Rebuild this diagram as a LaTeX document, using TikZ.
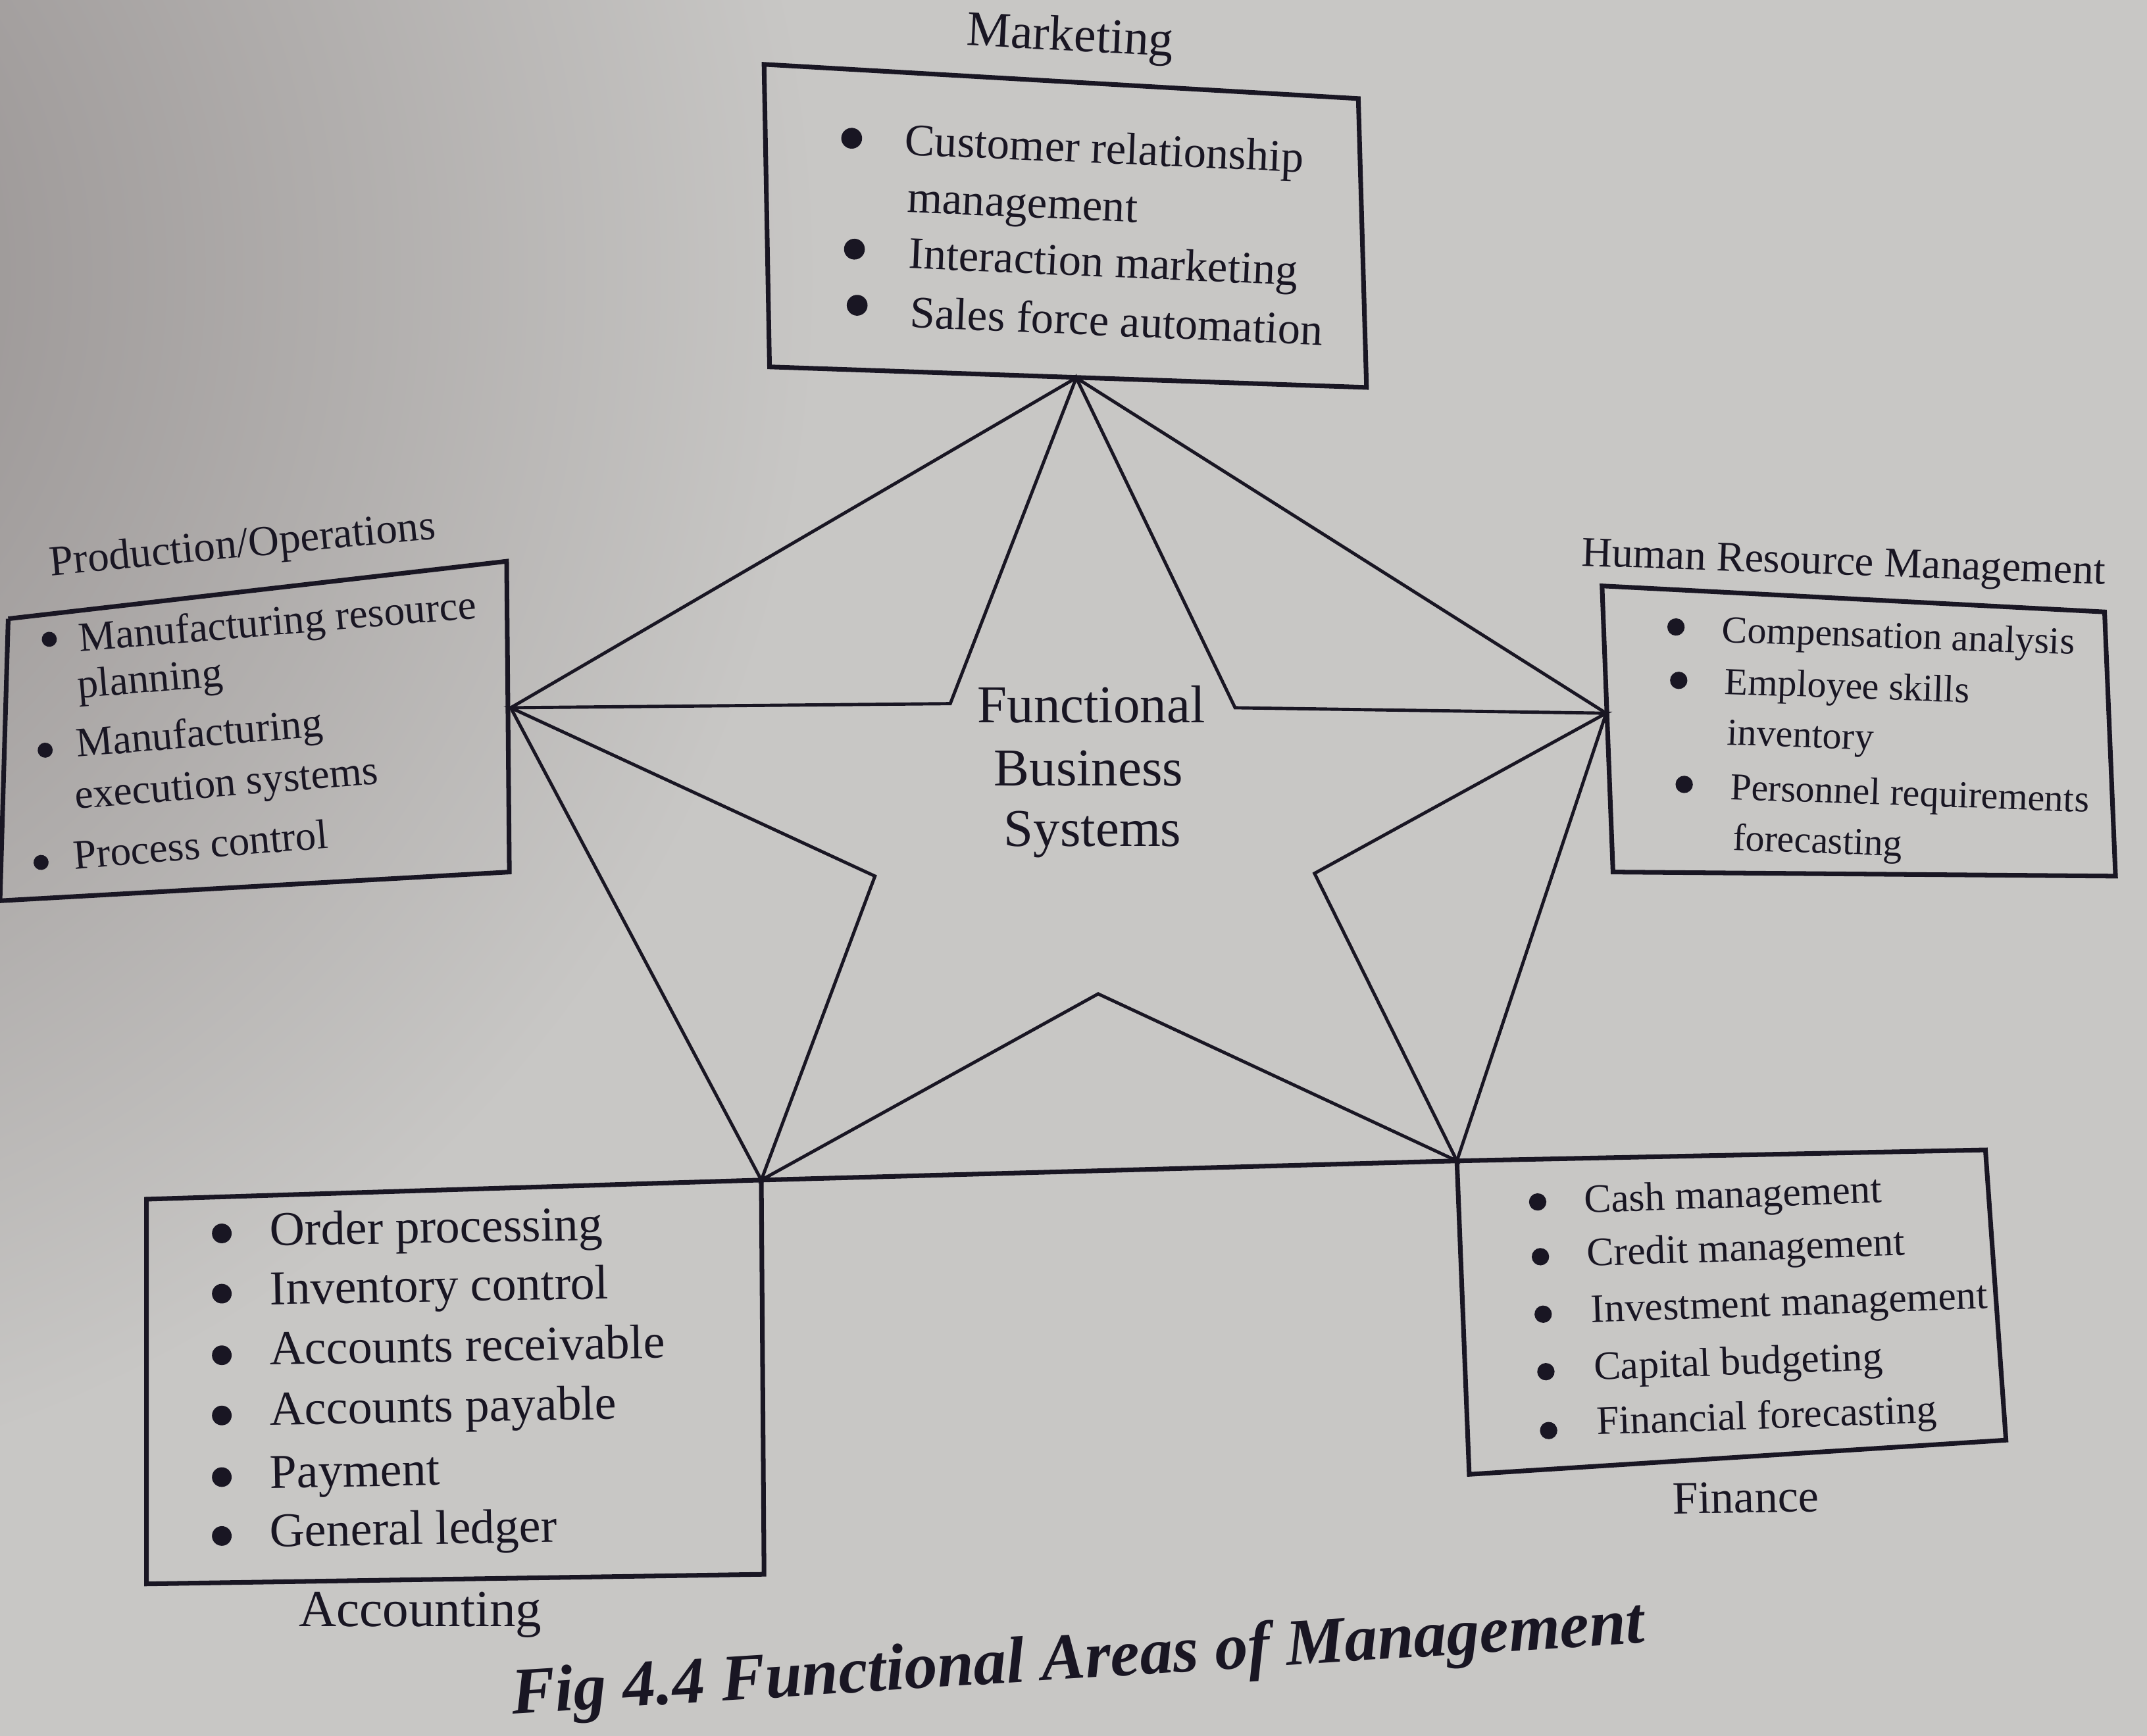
\documentclass[tikz,border=0pt]{standalone}
\usepackage{fontspec}
\setmainfont{Liberation Serif}
\definecolor{paper}{RGB}{200,199,197}
\definecolor{paperdark}{RGB}{140,134,134}
\definecolor{ink}{RGB}{25,22,35}
\begin{document}
\begin{tikzpicture}[x=0.02081cm,y=-0.02081cm,
  boxline/.style={draw=ink,line width=2pt,line join=miter},
  starline/.style={draw=ink,line width=1.4pt,line join=miter},
  itm/.style={anchor=base west,inner sep=0pt,text=ink},
  ttl/.style={anchor=base,inner sep=0pt,text=ink},
  dotb/.style={circle,fill=ink,inner sep=0pt,minimum size=8pt}]
\fill[paper] (0,0) rectangle (1568,1268);
\begin{scope}
\clip (0,0) rectangle (1568,1268);
\shade[inner color=paperdark, outer color=paper] (-300,200) circle (900);
\end{scope}
\useasboundingbox (0,0) rectangle (1568,1268);

% star vertices
\coordinate (T) at (786,276);
\coordinate (R) at (1173,521);
\coordinate (BR) at (1064,848);
\coordinate (BL) at (556,862);
\coordinate (L) at (373,517);
\coordinate (iUR) at (902,517);
\coordinate (iR) at (960,638);
\coordinate (iB) at (802,726);
\coordinate (iL) at (639,640);
\coordinate (iUL) at (694,514);

% boxes
\coordinate (mTL) at (558,47); \coordinate (mTR) at (992,72);
\coordinate (mBR) at (998,283); \coordinate (mBL) at (562,268);
\draw[boxline] (mTL) -- (mTR) -- (mBR) -- (mBL) -- cycle;

\coordinate (pTL) at (6,452); \coordinate (pTR) at (370,410);
\coordinate (pBR) at (372,637); \coordinate (pBL) at (0,658);
\draw[boxline] (pTL) -- (pTR) -- (pBR) -- (pBL);
\draw[boxline] (pTL) -- (pBL);

\coordinate (hTL) at (1170,428); \coordinate (hTR) at (1537,447);
\coordinate (hBR) at (1545,640); \coordinate (hBL) at (1178,637);
\draw[boxline] (hTL) -- (hTR) -- (hBR) -- (hBL) -- cycle;

\coordinate (aTL) at (107,876); \coordinate (aBR) at (558,1150);
\coordinate (aBL) at (107,1157);
\draw[boxline] (aTL) -- (BL) -- (aBR) -- (aBL) -- cycle;

\coordinate (fTR) at (1450,840); \coordinate (fBR) at (1465,1052);
\coordinate (fBL) at (1073,1077);
\draw[boxline] (BR) -- (fTR) -- (fBR) -- (fBL) -- cycle;
\draw[boxline] (BL) -- (BR);

% pentagon edges
\draw[starline] (T) -- (L) -- (BL);
\draw[starline] (T) -- (R) -- (BR);
% star
\draw[starline] (T) -- (iUR) -- (R) -- (iR) -- (BR) -- (iB) -- (BL) -- (iL) -- (L) -- (iUL) -- cycle;

% center text
\node[ttl,font=\fontsize{23}{27}\selectfont] (c1) at (797,528) {Functional};
\node[ttl,font=\fontsize{23}{27}\selectfont] (c2) at (795,574) {Business};
\node[ttl,font=\fontsize{23}{27}\selectfont] (c3) at (798,618) {Systems};

% Marketing
\node[ttl,font=\fontsize{21.5}{25}\selectfont,rotate=-3] (mt) at (781,37) {Marketing};
\begin{scope}[every node/.append style={rotate=-2.5}]
\node[itm,font=\fontsize{19.5}{23}\selectfont] (m1) at (660,113) {Customer relationship};
\node[itm,font=\fontsize{19.5}{23}\selectfont] (m2) at (662,155) {management};
\node[itm,font=\fontsize{19.5}{23}\selectfont] (m3) at (663,196) {Interaction marketing};
\node[itm,font=\fontsize{19.5}{23}\selectfont] (m4) at (664,239) {Sales force automation};
\node[dotb,minimum size=9pt] (mb1) at (622,101) {};
\node[dotb,minimum size=9pt] (mb2) at (624,182) {};
\node[dotb,minimum size=9pt] (mb3) at (626,223) {};
\end{scope}

% Production/Operations
\node[ttl,font=\fontsize{18.5}{22}\selectfont,rotate=5.5] (pt) at (178,407) {Production/Operations};
\begin{scope}[every node/.append style={rotate=4.8}]
\node[itm,font=\fontsize{18}{21}\selectfont] (p1) at (58,476) {Manufacturing resource};
\node[itm,font=\fontsize{18}{21}\selectfont] (p2) at (57,510) {planning};
\node[itm,font=\fontsize{18}{21}\selectfont] (p3) at (56,553) {Manufacturing};
\node[itm,font=\fontsize{18}{21}\selectfont] (p4) at (55,591) {execution systems};
\node[itm,font=\fontsize{18}{21}\selectfont] (p5) at (54,635) {Process control};
\node[dotb,minimum size=6.5pt] (pb1) at (36,467) {};
\node[dotb,minimum size=6.5pt] (pb2) at (33,548) {};
\node[dotb,minimum size=6.5pt] (pb3) at (30,630) {};
\end{scope}

% Human Resource Management
\node[ttl,font=\fontsize{18.3}{22}\selectfont,rotate=-2] (ht) at (1346,420) {Human Resource Management};
\begin{scope}[every node/.append style={rotate=-2}]
\node[itm,font=\fontsize{16.5}{20}\selectfont] (h1) at (1257,469) {Compensation analysis};
\node[itm,font=\fontsize{16.5}{20}\selectfont] (h2) at (1259,507) {Employee skills};
\node[itm,font=\fontsize{16.5}{20}\selectfont] (h3) at (1261,544) {inventory};
\node[itm,font=\fontsize{16.5}{20}\selectfont] (h4) at (1263,584) {Personnel requirements};
\node[itm,font=\fontsize{16.5}{20}\selectfont] (h5) at (1265,621) {forecasting};
\node[dotb,minimum size=7.5pt] (hb1) at (1224,458) {};
\node[dotb,minimum size=7.5pt] (hb2) at (1226,497) {};
\node[dotb,minimum size=7.5pt] (hb3) at (1230,573) {};
\end{scope}

% Accounting
\begin{scope}[every node/.append style={rotate=1}]
\node[itm,font=\fontsize{21}{24}\selectfont] (a1) at (197,910) {Order processing};
\node[itm,font=\fontsize{21}{24}\selectfont] (a2) at (197,953) {Inventory control};
\node[itm,font=\fontsize{21}{24}\selectfont] (a3) at (197,997) {Accounts receivable};
\node[itm,font=\fontsize{21}{24}\selectfont] (a4) at (197,1041) {Accounts payable};
\node[itm,font=\fontsize{21}{24}\selectfont] (a5) at (197,1087) {Payment};
\node[itm,font=\fontsize{21}{24}\selectfont] (a6) at (197,1130) {General ledger};
\node[dotb,minimum size=8.5pt] (ab1) at (162,901) {};
\node[dotb,minimum size=8.5pt] (ab2) at (162,945) {};
\node[dotb,minimum size=8.5pt] (ab3) at (162,990) {};
\node[dotb,minimum size=8.5pt] (ab4) at (162,1034) {};
\node[dotb,minimum size=8.5pt] (ab5) at (162,1079) {};
\node[dotb,minimum size=8.5pt] (ab6) at (162,1122) {};
\end{scope}
\node[ttl,font=\fontsize{22.5}{26}\selectfont] (at) at (307,1188) {Accounting};

% Finance
\begin{scope}[every node/.append style={rotate=2}]
\node[itm,font=\fontsize{17.5}{21}\selectfont] (f1) at (1157,886) {Cash management};
\node[itm,font=\fontsize{17.5}{21}\selectfont] (f2) at (1159,925) {Credit management};
\node[itm,font=\fontsize{17.5}{21}\selectfont] (f3) at (1162,966) {Investment management};
\node[itm,font=\fontsize{17.5}{21}\selectfont] (f4) at (1164,1008) {Capital budgeting};
\node[itm,font=\fontsize{17.5}{21}\selectfont] (f5) at (1166,1048) {Financial forecasting};
\node[dotb,minimum size=7.5pt] (fb1) at (1123,878) {};
\node[dotb,minimum size=7.5pt] (fb2) at (1125,918) {};
\node[dotb,minimum size=7.5pt] (fb3) at (1127,960) {};
\node[dotb,minimum size=7.5pt] (fb4) at (1129,1002) {};
\node[dotb,minimum size=7.5pt] (fb5) at (1131,1045) {};
\end{scope}
\node[ttl,font=\fontsize{20}{24}\selectfont,rotate=1] (ft) at (1275,1105) {Finance};

% caption
\node[ttl,font=\fontsize{28.5}{32}\selectfont\bfseries\itshape,rotate=3.6] (cap) at (788,1226) {Fig 4.4 Functional Areas of Management};
\end{tikzpicture}
\end{document}
